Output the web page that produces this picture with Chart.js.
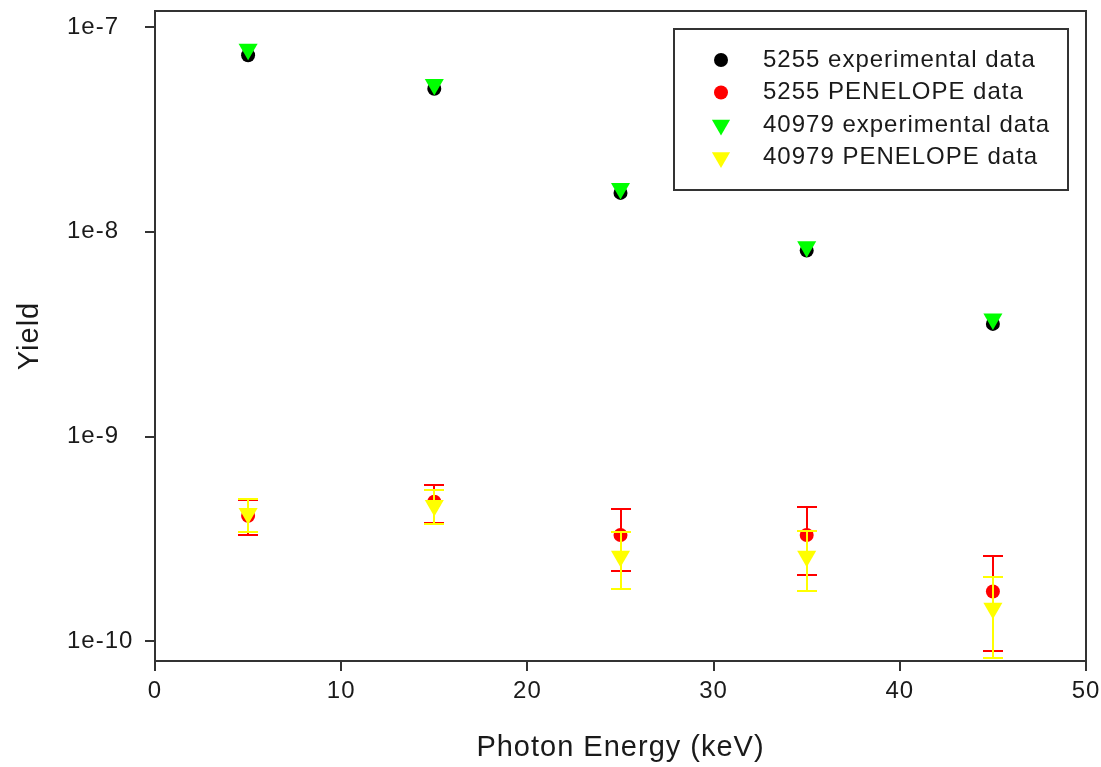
<!DOCTYPE html>
<html>
<head>
<meta charset="utf-8">
<title>Yield vs Photon Energy</title>
<script src="https://cdn.jsdelivr.net/npm/chart.js@4.4.1/dist/chart.umd.min.js"></script>
<style>
    html, body { margin: 0; padding: 0; background: #fff; }
    #chart-wrap { width: 1101px; height: 767px; }
</style>
</head>
<body>
<div id="chart-wrap"><canvas id="yield-chart" width="1101" height="767"></canvas></div>
<script>
// ---- Data ----
const energies = [5, 15, 25, 35, 45];
const exp5255 = [7.3e-8, 5.0e-8, 1.55e-8, 8.1e-9, 3.55e-9];
const pen5255 = [4.1e-10, 4.8e-10, 3.3e-10, 3.3e-10, 1.75e-10];
const pen5255Err = [0.8e-10, 1.0e-10, 1.1e-10, 1.2e-10, 0.85e-10];
const exp40979 = [7.8e-8, 5.25e-8, 1.63e-8, 8.45e-9, 3.75e-9];
const pen40979 = [4.2e-10, 4.6e-10, 2.6e-10, 2.6e-10, 1.45e-10];
const pen40979Err = [0.77e-10, 0.87e-10, 0.8e-10, 0.85e-10, 0.62e-10];
const seriesLabels = ['5255 experimental data', '5255 PENELOPE data', '40979 experimental data', '40979 PENELOPE data'];
const yTickValues = [1e-10, 1e-9, 1e-8, 1e-7];
const yTickLabels = ['1e-10', '1e-9', '1e-8', '1e-7'];

const FONT = '"Liberation Sans", Arial, sans-serif';
const INK = '#1a1a1a';
const AXIS = '#333';

function points(ys) {
    return energies.map(function (x, i) { return { x: x, y: ys[i] }; });
}

// slightly spaced-out lettering, like the original plot
const spacing = {
    id: 'spacing',
    beforeDraw: function (chart) {
        chart.ctx.letterSpacing = '1px';
    }
};

// error bars, drawn just before the dataset's own markers
const errorBars = {
    id: 'errorBars',
    beforeDatasetDraw: function (chart, args) {
        const ds = chart.data.datasets[args.index];
        if (!ds.errors) {
            return;
        }
        const xs = chart.scales.x;
        const ys = chart.scales.y;
        const ctx = chart.ctx;
        ctx.save();
        ctx.strokeStyle = ds.errorColor;
        ctx.lineWidth = 2;
        ds.data.forEach(function (p, i) {
            const e = ds.errors[i];
            const px = Math.round(xs.getPixelForValue(p.x));
            const top = Math.round(ys.getPixelForValue(p.y + e));
            const bot = Math.round(ys.getPixelForValue(p.y - e));
            ctx.beginPath();
            ctx.moveTo(px, top);
            ctx.lineTo(px, bot);
            ctx.moveTo(px - 10, top);
            ctx.lineTo(px + 10, top);
            ctx.moveTo(px - 10, bot);
            ctx.lineTo(px + 10, bot);
            ctx.stroke();
        });
        ctx.restore();
    }
};

// full frame round the plot area
const frame = {
    id: 'frame',
    afterDatasetsDraw: function (chart) {
        const a = chart.chartArea;
        const ctx = chart.ctx;
        ctx.save();
        ctx.strokeStyle = AXIS;
        ctx.lineWidth = 2;
        ctx.strokeRect(a.left, a.top, a.right - a.left, a.bottom - a.top);
        ctx.restore();
    }
};

// boxed legend inside the plot, plus the rotated y title
const boxLegend = {
    id: 'boxLegend',
    afterDraw: function (chart) {
        const a = chart.chartArea;
        const ctx = chart.ctx;
        const w = 394;
        const h = 161;
        const left = a.right - 18 - w;
        const top = a.top + 18;
        ctx.save();
        ctx.fillStyle = '#fff';
        ctx.fillRect(left, top, w, h);
        ctx.strokeStyle = AXIS;
        ctx.lineWidth = 2;
        ctx.strokeRect(left, top, w, h);
        ctx.font = '24px ' + FONT;
        ctx.textBaseline = 'middle';
        ctx.textAlign = 'left';
        chart.data.datasets.forEach(function (ds, i) {
            const cy = top + 31 + i * 32.5;
            ctx.fillStyle = ds.pointBackgroundColor;
            Chart.helpers.drawPoint(ctx, {
                pointStyle: ds.pointStyle,
                radius: ds.pointStyle === 'triangle' ? 10.5 : 7,
                rotation: ds.pointRotation || 0,
                borderWidth: 0
            }, left + 47, cy);
            ctx.fillStyle = INK;
            ctx.fillText(seriesLabels[i], left + 89, cy);
        });

        ctx.translate(30, (a.top + a.bottom) / 2);
        ctx.rotate(-Math.PI / 2);
        ctx.textAlign = 'center';
        ctx.font = '29px ' + FONT;
        ctx.fillStyle = INK;
        ctx.fillText('Yield', 0, 0);
        ctx.restore();
    }
};

const tickFont = { family: FONT, size: 24 };
const gridOpts = { drawOnChartArea: false, drawTicks: true, tickLength: 10, color: AXIS, lineWidth: 2 };
const borderOpts = { display: true, color: AXIS, width: 2 };

new Chart(document.getElementById('yield-chart').getContext('2d'), {
    type: 'scatter',
    data: {
        datasets: [{
            label: seriesLabels[0],
            data: points(exp5255),
            pointStyle: 'circle',
            pointRadius: 7,
            pointBackgroundColor: '#000000',
            pointBorderColor: '#000000',
            pointBorderWidth: 0,
            order: 4
        }, {
            label: seriesLabels[1],
            data: points(pen5255),
            errors: pen5255Err,
            errorColor: '#ff0000',
            pointStyle: 'circle',
            pointRadius: 7,
            pointBackgroundColor: '#ff0000',
            pointBorderColor: '#ff0000',
            pointBorderWidth: 0,
            order: 3
        }, {
            label: seriesLabels[2],
            data: points(exp40979),
            pointStyle: 'triangle',
            pointRotation: 180,
            pointRadius: 11,
            pointBackgroundColor: '#00ff00',
            pointBorderColor: '#00ff00',
            pointBorderWidth: 0,
            order: 2
        }, {
            label: seriesLabels[3],
            data: points(pen40979),
            errors: pen40979Err,
            errorColor: '#ffff00',
            pointStyle: 'triangle',
            pointRotation: 180,
            pointRadius: 11,
            pointBackgroundColor: '#ffff00',
            pointBorderColor: '#ffff00',
            pointBorderWidth: 0,
            order: 1
        }]
    },
    options: {
        responsive: false,
        animation: false,
        devicePixelRatio: 1,
        layout: { padding: { left: 67, top: 9, right: 15, bottom: 0 } },
        plugins: {
            legend: { display: false },
            tooltip: { enabled: false }
        },
        scales: {
            x: {
                type: 'linear',
                min: 0,
                max: 50,
                ticks: { stepSize: 10, padding: 6, font: tickFont, color: INK, maxRotation: 0 },
                title: {
                    display: true,
                    text: 'Photon Energy (keV)',
                    font: { family: FONT, size: 29 },
                    color: INK,
                    padding: { top: 0, bottom: 2 }
                },
                grid: gridOpts,
                border: borderOpts,
                afterFit: function (scale) {
                    scale.height = 106;
                    scale.paddingLeft = 0;
                    scale.paddingRight = 0;
                }
            },
            y: {
                type: 'logarithmic',
                min: 8e-11,
                max: 1.2e-7,
                afterBuildTicks: function (scale) {
                    scale.ticks = yTickValues.map(function (v) { return { value: v }; });
                },
                ticks: {
                    callback: function (v, i) { return yTickLabels[i]; },
                    crossAlign: 'far',
                    font: tickFont,
                    color: INK
                },
                grid: gridOpts,
                border: borderOpts,
                afterFit: function (scale) {
                    scale.width = 88;
                    scale.paddingTop = 0;
                    scale.paddingBottom = 0;
                }
            }
        }
    },
    plugins: [spacing, errorBars, frame, boxLegend]
});
</script>
</body>
</html>
